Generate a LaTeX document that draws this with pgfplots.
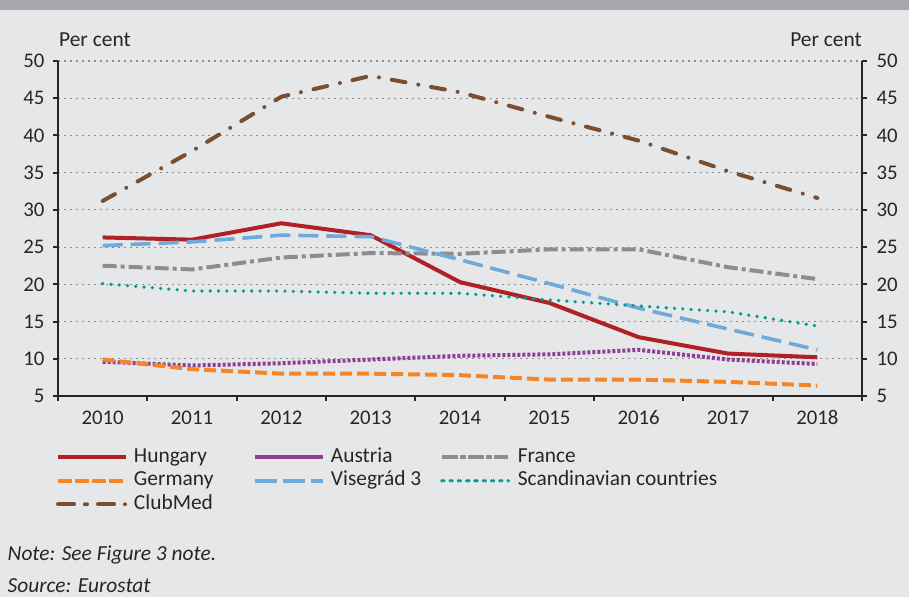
\documentclass[border=0pt]{standalone}
\usepackage{pgfplots}
\usepackage{pgfplotstable}
\pgfplotsset{compat=1.18}
\usepackage{fontspec}
\setmainfont{Carlito}
\definecolor{bg}{RGB}{230,231,233}
\definecolor{band}{RGB}{167,168,171}
\definecolor{hun}{RGB}{176,32,37}
\definecolor{aut}{RGB}{143,62,151}
\definecolor{fra}{RGB}{140,141,145}
\definecolor{ger}{RGB}{245,133,38}
\definecolor{vis}{RGB}{111,170,220}
\definecolor{sca}{RGB}{0,156,138}
\definecolor{clm}{RGB}{122,78,48}
\definecolor{gridc}{RGB}{140,140,140}
\newcommand\lbl{\fontsize{20.8bp}{25bp}\selectfont}
\newcommand\txt{\fontsize{21.4bp}{25bp}\selectfont}

\pgfplotstableread{
i hun aut fra ger vis sca clm
0 26.3 9.6 22.5 9.9 25.2 20.1 31.2
1 26.0 9.1 22.0 8.6 25.7 19.1 37.9
2 28.2 9.4 23.6 8.0 26.6 19.1 45.2
3 26.6 9.9 24.2 8.0 26.4 18.8 48.0
4 20.3 10.4 24.1 7.8 23.3 18.8 45.8
5 17.5 10.6 24.7 7.2 20.1 17.9 42.5
6 12.9 11.2 24.7 7.2 16.8 17.1 39.3
7 10.7 9.9 22.3 6.9 14.0 16.3 35.2
8 10.2 9.3 20.7 6.4 11.2 14.4 31.6
}\data

\begin{document}
\begin{tikzpicture}
\fill[bg] (0bp,0bp) rectangle (909bp,597bp);
\fill[band] (0bp,587bp) rectangle (909bp,597bp);
\begin{axis}[
  at={(58bp,201bp)}, anchor=south west, scale only axis,
  width=804bp, height=335bp,
  xmin=-0.5, xmax=8.5, ymin=5, ymax=50,
  axis x line*=bottom, axis y line*=left,
  axis line style={-, line width=2.4bp, color=black!85},
  ytick={5,10,...,50},
  yticklabel style={xshift=-5bp},
  xtick={-0.5,0.5,...,8.5}, xticklabels={},
  extra x ticks={0,1,2,3,4,5,6,7,8},
  extra x tick labels={2010,2011,2012,2013,2014,2015,2016,2017,2018},
  extra x tick style={major tick length=0pt, grid=none, xticklabel style={yshift=-11bp}},
  tick align=outside, major tick length=5bp,
  tick style={line width=2bp, color=black!85},
  ymajorgrids, grid style={line width=1.2bp, color=gridc, dash pattern=on 2bp off 4bp},
  tick label style={font=\lbl, color=black!85},
  /pgf/number format/assume math mode=true,
  legend columns=3,
  legend cell align=left,
  legend image code/.code={\path (0bp,0bp) -- (68bp,0bp);\draw[#1] (2bp,0bp) -- (66bp,0bp);},
  legend style={at={(axis description cs:-0.0025,-0.153)}, anchor=north west,
    draw=none, fill=none, inner sep=0pt, outer sep=0pt, font=\txt, text=black!85,
    row sep=3.5bp,
    nodes={inner sep=0pt, text height=15bp, text depth=5bp},
    /tikz/column 1/.style={column sep=6bp},
    /tikz/column 2/.style={column sep=39.5bp},
    /tikz/column 3/.style={column sep=6bp},
    /tikz/column 4/.style={column sep=18.5bp},
    /tikz/column 5/.style={column sep=6bp}},
]
\addplot[hun, line width=4bp, mark=none] table[x=i,y=hun]{\data};
\addlegendentry{Hungary}
\addplot[aut, line width=4bp, mark=none, dash pattern=on 3bp off 2bp] table[x=i,y=aut]{\data};
\addlegendentry{Austria}
\addplot[fra, line width=4bp, mark=none, dash pattern=on 14bp off 4bp on 4bp off 4bp] table[x=i,y=fra]{\data};
\addlegendentry{France}
\addplot[ger, line width=4bp, mark=none, dash pattern=on 12bp off 5bp] table[x=i,y=ger]{\data};
\addlegendentry{Germany}
\addplot[vis, line width=3.6bp, mark=none, dash pattern=on 20bp off 8bp] table[x=i,y=vis]{\data};
\addlegendentry{Visegrád 3}
\addplot[sca, line width=3.6bp, mark=none, line cap=round, dash pattern=on 0bp off 8.3bp] table[x=i,y=sca]{\data};
\addlegendentry{Scandinavian countries}
\addplot[clm, line width=4bp, mark=none, line cap=round, dash pattern=on 14bp off 13bp on 0bp off 13bp] table[x=i,y=clm]{\data};
\addlegendentry{ClubMed}
\end{axis}
\begin{axis}[
  at={(58bp,201bp)}, anchor=south west, scale only axis,
  width=804bp, height=335bp,
  xmin=-0.5, xmax=8.5, ymin=5, ymax=50,
  axis y line*=right, axis x line=none,
  axis line style={-, line width=2.4bp, color=black!85},
  ytick={5,10,...,50},
  yticklabel style={xshift=6bp},
  tick align=outside, major tick length=5bp,
  tick style={line width=2bp, color=black!85},
  tick label style={font=\lbl, color=black!85},
  /pgf/number format/assume math mode=true,
]
\end{axis}
\node[anchor=base west, inner sep=0pt, font=\txt, text=black!85] at (59bp,550.3bp) {Per cent};
\node[anchor=base east, inner sep=0pt, font=\txt, text=black!85] at (862bp,550.3bp) {Per cent};
\node[anchor=base west, inner sep=0pt, font=\txt\itshape, text=black!85] at (7.5bp,37bp) {Note: See Figure 3 note.};
\node[anchor=base west, inner sep=0pt, font=\txt\itshape, text=black!85] at (7.5bp,4.3bp) {Source: Eurostat};
\end{tikzpicture}
\end{document}
